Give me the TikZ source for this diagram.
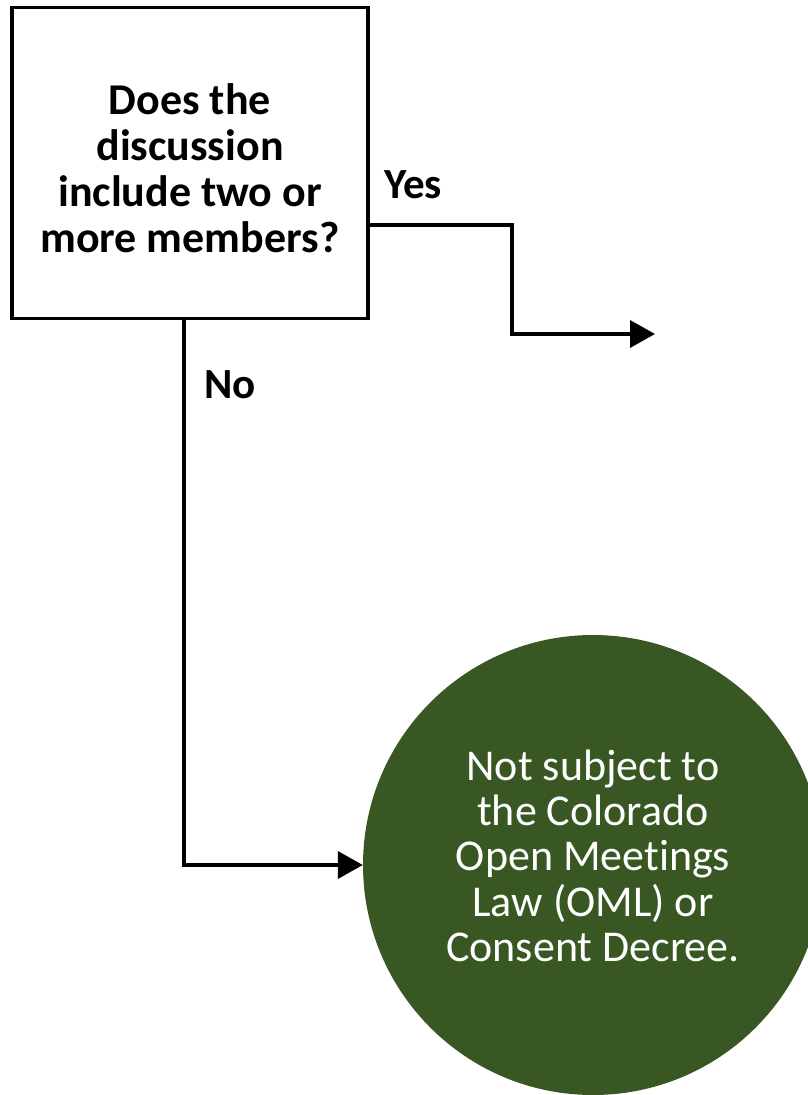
\documentclass[tikz,border=0pt]{standalone}
\usepackage{fontspec}
\setmainfont{Carlito}[Ligatures=NoCommon]
\usetikzlibrary{arrows.meta}

\definecolor{oldgreen}{HTML}{385723}

\tikzset{
  conn/.style={line width=3.8pt, -{Triangle[length=25pt,width=27pt]}},
  question/.style={draw, line width=3.8pt, rectangle, minimum width=356pt, minimum height=311pt,
    align=center, font=\fontsize{44}{46}\selectfont\bfseries},
  answer/.style={font=\fontsize{43}{46}\selectfont\bfseries}
}

\begin{document}
\begin{tikzpicture}[x=1pt, y=-1pt]

\useasboundingbox (0,0) rectangle (808,1095);

\node[question] (members) at (190,163)
  {\raisebox{-11pt}[\height][\depth]{\begin{tabular}{@{}c@{}}Does the\\discussion\\include two or\\more members?\end{tabular}}};

\node[circle, fill=oldgreen, minimum size=460pt, inner sep=0pt, text=white, align=center,
  font=\fontsize{44}{45}\selectfont] (notsubject) at (593,865)
  {\raisebox{3pt}[\height][\depth]{\begin{tabular}{@{}c@{}}Not subject to\\the Colorado\\Open Meetings\\Law (OML) or\\Consent Decree.\end{tabular}}};

\coordinate (yesend) at (655,334);

% yes branch
\draw[conn] ([yshift=-62pt]members.east) -- (512,225) -- (512,334) -- (yesend);
\node[answer] (yes) at (413,185) {Yes};

% no branch
\draw[conn] ([xshift=-6pt]members.south) |- (notsubject.west);
\node[answer] (no) at (230,385) {No};

\end{tikzpicture}
\end{document}
